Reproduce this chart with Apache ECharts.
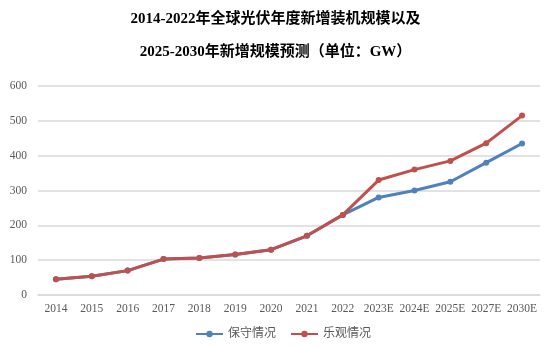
<!DOCTYPE html>
<html>
<head>
<meta charset="utf-8">
<script src="https://cdn.jsdelivr.net/npm/echarts@6/dist/echarts.min.js"></script>
<style>
  html, body { margin: 0; padding: 0; background: #fff; }
  #chart { width: 551px; height: 346px; }
</style>
</head>
<body>
<div id="chart"></div>
<script>
// 年度新增装机规模（GW）
const years = ['2014', '2015', '2016', '2017', '2018', '2019', '2020', '2021', '2022', '2023E', '2024E', '2025E', '2027E', '2030E'];
const conservative = [45, 54, 70, 103, 106, 116, 130, 170, 230, 280, 300, 325, 380, 435];
const optimistic = [45, 54, 70, 103, 106, 116, 130, 170, 230, 330, 360, 385, 436, 515];
const yTicks = [0, 100, 200, 300, 400, 500, 600];

const serif = '"Liberation Serif", "Times New Roman", "Noto Sans CJK SC", serif';

const chart = echarts.init(document.getElementById('chart'), null, { renderer: 'canvas' });
chart.setOption({
  animation: false,
  backgroundColor: '#ffffff',
  title: {
    text: '2014-2022年全球光伏年度新增装机规模以及\n\n2025-2030年新增规模预测（单位：GW）',
    left: 'center',
    top: 6,
    textStyle: {
      fontFamily: serif,
      fontWeight: 'bold',
      fontSize: 15,
      color: '#000',
      lineHeight: 16.5
    }
  },
  legend: {
    bottom: 1,
    left: 190,
    itemWidth: 27,
    itemHeight: 8,
    itemGap: 14,
    textStyle: { fontFamily: serif, fontSize: 12, color: '#595959' },
    data: ['保守情况', '乐观情况']
  },
  grid: { left: 38, right: 11, top: 86, bottom: 51 },
  xAxis: {
    type: 'category',
    data: years,
    boundaryGap: true,
    axisLine: { show: true, lineStyle: { color: '#d9d9d9', width: 1.5 } },
    axisTick: { show: false },
    axisLabel: { fontFamily: serif, fontSize: 11.5, color: '#595959', margin: 8, interval: 0 }
  },
  yAxis: {
    type: 'value',
    min: yTicks[0],
    max: yTicks[yTicks.length - 1],
    interval: 100,
    axisLine: { show: false },
    axisTick: { show: false },
    axisLabel: { fontFamily: serif, fontSize: 11.5, color: '#595959', margin: 11 },
    splitLine: { lineStyle: { color: '#d9d9d9', width: 1.5 } }
  },
  series: [
    {
      name: '保守情况',
      type: 'line',
      data: conservative,
      symbol: 'circle',
      symbolSize: 6,
      color: '#4f81bd',
      lineStyle: { width: 3, color: '#4f81bd' },
      itemStyle: { color: '#4f81bd' }
    },
    {
      name: '乐观情况',
      type: 'line',
      data: optimistic,
      symbol: 'circle',
      symbolSize: 6,
      color: '#c0504d',
      lineStyle: { width: 3, color: '#c0504d' },
      itemStyle: { color: '#c0504d' }
    }
  ]
});
</script>
</body>
</html>
